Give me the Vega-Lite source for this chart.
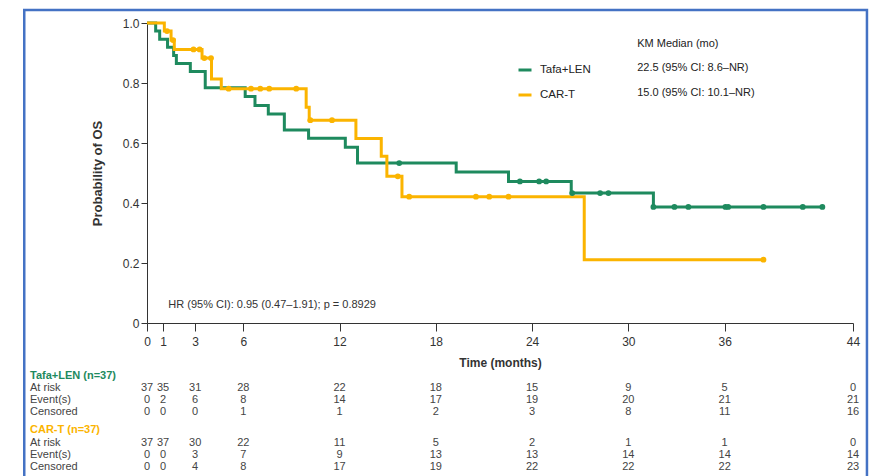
{
  "$schema": "https://vega.github.io/schema/vega-lite/v6.json",
  "width": 706,
  "height": 300,
  "autosize": {"type": "none"},
  "padding": {"left": 147, "top": 23, "right": 26, "bottom": 153},
  "background": "white",
  "config": {
    "view": {"stroke": null},
    "font": "Liberation Sans",
    "axis": {"grid": false, "labelColor": "#333", "domainColor": "#333", "tickColor": "#333", "titleColor": "#333", "labelOverlap": false},
    "axisY": {"tickCount": 10, "labelOverlap": false},
    "text": {"fontSize": 11, "color": "#444", "baseline": "middle"}
  },
  "datasets": {
    "km": [
      {"arm": "Tafa+LEN", "t": 0, "s": 1.0},
      {"arm": "Tafa+LEN", "t": 0.54, "s": 0.973},
      {"arm": "Tafa+LEN", "t": 0.79, "s": 0.946},
      {"arm": "Tafa+LEN", "t": 1.28, "s": 0.919},
      {"arm": "Tafa+LEN", "t": 1.66, "s": 0.892},
      {"arm": "Tafa+LEN", "t": 1.83, "s": 0.865},
      {"arm": "Tafa+LEN", "t": 2.7, "s": 0.838},
      {"arm": "Tafa+LEN", "t": 3.63, "s": 0.784},
      {"arm": "Tafa+LEN", "t": 6.12, "s": 0.755},
      {"arm": "Tafa+LEN", "t": 6.73, "s": 0.725},
      {"arm": "Tafa+LEN", "t": 7.56, "s": 0.697},
      {"arm": "Tafa+LEN", "t": 8.56, "s": 0.643},
      {"arm": "Tafa+LEN", "t": 10.07, "s": 0.616},
      {"arm": "Tafa+LEN", "t": 12.36, "s": 0.586},
      {"arm": "Tafa+LEN", "t": 13.12, "s": 0.533},
      {"arm": "Tafa+LEN", "t": 19.27, "s": 0.503},
      {"arm": "Tafa+LEN", "t": 22.53, "s": 0.472},
      {"arm": "Tafa+LEN", "t": 26.44, "s": 0.433},
      {"arm": "Tafa+LEN", "t": 31.56, "s": 0.387},
      {"arm": "Tafa+LEN", "t": 42.09, "s": 0.387},
      {"arm": "CAR-T", "t": 0, "s": 1.0},
      {"arm": "CAR-T", "t": 1.08, "s": 0.973},
      {"arm": "CAR-T", "t": 1.5, "s": 0.943},
      {"arm": "CAR-T", "t": 1.7, "s": 0.912},
      {"arm": "CAR-T", "t": 3.43, "s": 0.883},
      {"arm": "CAR-T", "t": 4.02, "s": 0.813},
      {"arm": "CAR-T", "t": 4.63, "s": 0.781},
      {"arm": "CAR-T", "t": 9.92, "s": 0.719},
      {"arm": "CAR-T", "t": 10.11, "s": 0.676},
      {"arm": "CAR-T", "t": 13.02, "s": 0.615},
      {"arm": "CAR-T", "t": 14.6, "s": 0.556},
      {"arm": "CAR-T", "t": 14.95, "s": 0.489},
      {"arm": "CAR-T", "t": 15.89, "s": 0.421},
      {"arm": "CAR-T", "t": 27.25, "s": 0.211},
      {"arm": "CAR-T", "t": 38.42, "s": 0.211}
    ],
    "censor": [
      {"arm": "Tafa+LEN", "t": 15.72, "s": 0.533},
      {"arm": "Tafa+LEN", "t": 23.24, "s": 0.472},
      {"arm": "Tafa+LEN", "t": 24.44, "s": 0.472},
      {"arm": "Tafa+LEN", "t": 24.88, "s": 0.472},
      {"arm": "Tafa+LEN", "t": 26.5, "s": 0.433},
      {"arm": "Tafa+LEN", "t": 28.24, "s": 0.433},
      {"arm": "Tafa+LEN", "t": 28.76, "s": 0.433},
      {"arm": "Tafa+LEN", "t": 31.56, "s": 0.387},
      {"arm": "Tafa+LEN", "t": 32.87, "s": 0.387},
      {"arm": "Tafa+LEN", "t": 33.74, "s": 0.387},
      {"arm": "Tafa+LEN", "t": 36.05, "s": 0.387},
      {"arm": "Tafa+LEN", "t": 36.22, "s": 0.387},
      {"arm": "Tafa+LEN", "t": 38.42, "s": 0.387},
      {"arm": "Tafa+LEN", "t": 40.87, "s": 0.387},
      {"arm": "Tafa+LEN", "t": 42.09, "s": 0.387},
      {"arm": "CAR-T", "t": 1.25, "s": 0.973},
      {"arm": "CAR-T", "t": 1.62, "s": 0.943},
      {"arm": "CAR-T", "t": 2.9, "s": 0.912},
      {"arm": "CAR-T", "t": 3.28, "s": 0.912},
      {"arm": "CAR-T", "t": 3.57, "s": 0.883},
      {"arm": "CAR-T", "t": 3.99, "s": 0.883},
      {"arm": "CAR-T", "t": 5.09, "s": 0.781},
      {"arm": "CAR-T", "t": 6.48, "s": 0.781},
      {"arm": "CAR-T", "t": 7.06, "s": 0.781},
      {"arm": "CAR-T", "t": 7.62, "s": 0.781},
      {"arm": "CAR-T", "t": 9.3, "s": 0.781},
      {"arm": "CAR-T", "t": 10.18, "s": 0.676},
      {"arm": "CAR-T", "t": 11.53, "s": 0.676},
      {"arm": "CAR-T", "t": 15.63, "s": 0.489},
      {"arm": "CAR-T", "t": 16.34, "s": 0.421},
      {"arm": "CAR-T", "t": 20.5, "s": 0.421},
      {"arm": "CAR-T", "t": 21.33, "s": 0.421},
      {"arm": "CAR-T", "t": 22.53, "s": 0.421},
      {"arm": "CAR-T", "t": 38.42, "s": 0.211}
    ],
    "risk": [
      {"arm": "Tafa+LEN", "stat": "At risk", "t": 0, "n": 37}, {"arm": "Tafa+LEN", "stat": "At risk", "t": 1, "n": 35}, {"arm": "Tafa+LEN", "stat": "At risk", "t": 3, "n": 31}, {"arm": "Tafa+LEN", "stat": "At risk", "t": 6, "n": 28}, {"arm": "Tafa+LEN", "stat": "At risk", "t": 12, "n": 22}, {"arm": "Tafa+LEN", "stat": "At risk", "t": 18, "n": 18}, {"arm": "Tafa+LEN", "stat": "At risk", "t": 24, "n": 15}, {"arm": "Tafa+LEN", "stat": "At risk", "t": 30, "n": 9}, {"arm": "Tafa+LEN", "stat": "At risk", "t": 36, "n": 5}, {"arm": "Tafa+LEN", "stat": "At risk", "t": 44, "n": 0},
      {"arm": "Tafa+LEN", "stat": "Event(s)", "t": 0, "n": 0}, {"arm": "Tafa+LEN", "stat": "Event(s)", "t": 1, "n": 2}, {"arm": "Tafa+LEN", "stat": "Event(s)", "t": 3, "n": 6}, {"arm": "Tafa+LEN", "stat": "Event(s)", "t": 6, "n": 8}, {"arm": "Tafa+LEN", "stat": "Event(s)", "t": 12, "n": 14}, {"arm": "Tafa+LEN", "stat": "Event(s)", "t": 18, "n": 17}, {"arm": "Tafa+LEN", "stat": "Event(s)", "t": 24, "n": 19}, {"arm": "Tafa+LEN", "stat": "Event(s)", "t": 30, "n": 20}, {"arm": "Tafa+LEN", "stat": "Event(s)", "t": 36, "n": 21}, {"arm": "Tafa+LEN", "stat": "Event(s)", "t": 44, "n": 21},
      {"arm": "Tafa+LEN", "stat": "Censored", "t": 0, "n": 0}, {"arm": "Tafa+LEN", "stat": "Censored", "t": 1, "n": 0}, {"arm": "Tafa+LEN", "stat": "Censored", "t": 3, "n": 0}, {"arm": "Tafa+LEN", "stat": "Censored", "t": 6, "n": 1}, {"arm": "Tafa+LEN", "stat": "Censored", "t": 12, "n": 1}, {"arm": "Tafa+LEN", "stat": "Censored", "t": 18, "n": 2}, {"arm": "Tafa+LEN", "stat": "Censored", "t": 24, "n": 3}, {"arm": "Tafa+LEN", "stat": "Censored", "t": 30, "n": 8}, {"arm": "Tafa+LEN", "stat": "Censored", "t": 36, "n": 11}, {"arm": "Tafa+LEN", "stat": "Censored", "t": 44, "n": 16},
      {"arm": "CAR-T", "stat": "At risk", "t": 0, "n": 37}, {"arm": "CAR-T", "stat": "At risk", "t": 1, "n": 37}, {"arm": "CAR-T", "stat": "At risk", "t": 3, "n": 30}, {"arm": "CAR-T", "stat": "At risk", "t": 6, "n": 22}, {"arm": "CAR-T", "stat": "At risk", "t": 12, "n": 11}, {"arm": "CAR-T", "stat": "At risk", "t": 18, "n": 5}, {"arm": "CAR-T", "stat": "At risk", "t": 24, "n": 2}, {"arm": "CAR-T", "stat": "At risk", "t": 30, "n": 1}, {"arm": "CAR-T", "stat": "At risk", "t": 36, "n": 1}, {"arm": "CAR-T", "stat": "At risk", "t": 44, "n": 0},
      {"arm": "CAR-T", "stat": "Event(s)", "t": 0, "n": 0}, {"arm": "CAR-T", "stat": "Event(s)", "t": 1, "n": 0}, {"arm": "CAR-T", "stat": "Event(s)", "t": 3, "n": 3}, {"arm": "CAR-T", "stat": "Event(s)", "t": 6, "n": 7}, {"arm": "CAR-T", "stat": "Event(s)", "t": 12, "n": 9}, {"arm": "CAR-T", "stat": "Event(s)", "t": 18, "n": 13}, {"arm": "CAR-T", "stat": "Event(s)", "t": 24, "n": 13}, {"arm": "CAR-T", "stat": "Event(s)", "t": 30, "n": 14}, {"arm": "CAR-T", "stat": "Event(s)", "t": 36, "n": 14}, {"arm": "CAR-T", "stat": "Event(s)", "t": 44, "n": 14},
      {"arm": "CAR-T", "stat": "Censored", "t": 0, "n": 0}, {"arm": "CAR-T", "stat": "Censored", "t": 1, "n": 0}, {"arm": "CAR-T", "stat": "Censored", "t": 3, "n": 4}, {"arm": "CAR-T", "stat": "Censored", "t": 6, "n": 8}, {"arm": "CAR-T", "stat": "Censored", "t": 12, "n": 17}, {"arm": "CAR-T", "stat": "Censored", "t": 18, "n": 19}, {"arm": "CAR-T", "stat": "Censored", "t": 24, "n": 22}, {"arm": "CAR-T", "stat": "Censored", "t": 30, "n": 22}, {"arm": "CAR-T", "stat": "Censored", "t": 36, "n": 22}, {"arm": "CAR-T", "stat": "Censored", "t": 44, "n": 23}
    ]
  },
  "layer": [
    {
      "data": {"name": "km"},
      "mark": {"type": "line", "interpolate": "step-after", "strokeWidth": 3},
      "encoding": {
        "x": {
          "field": "t", "type": "quantitative",
          "scale": {"domain": [0, 44], "nice": false, "zero": false},
          "axis": {
            "values": [0, 1, 3, 6, 12, 18, 24, 30, 36, 44],
            "title": "Time (months)", "titleFontSize": 12, "titleFontWeight": "bold", "titlePadding": 10,
            "labelFontSize": 12, "labelPadding": 5, "tickSize": 8, "labelFlush": false, "labelOverlap": false
          }
        },
        "y": {
          "field": "s", "type": "quantitative",
          "scale": {"domain": [0, 1], "nice": false},
          "axis": {
            "orient": "left",
            "values": [0, 0.1, 0.2, 0.3, 0.4, 0.5, 0.6, 0.7, 0.8, 0.9, 1.0],
            "tickCount": 10,
            "labelExpr": "datum.value == 0 ? '0' : format(datum.value, '.1f')",
            "title": "Probability of OS", "titleFontSize": 13, "titleFontWeight": "bold", "titlePadding": 18,
            "labelFontSize": 12, "labelPadding": 2, "tickSize": 6, "labelOverlap": false
          }
        },
        "color": {
          "field": "arm", "type": "nominal",
          "scale": {"domain": ["Tafa+LEN", "CAR-T"], "range": ["#1E8A5E", "#FBB400"]},
          "legend": {
            "orient": "none", "legendX": 370, "legendY": 39, "title": null,
            "symbolType": "stroke", "symbolStrokeWidth": 3, "symbolSize": 169,
            "labelFontSize": 11.5, "labelColor": "#222", "labelOffset": 7, "rowPadding": 11, "padding": 0
          }
        }
      }
    },
    {
      "data": {"name": "censor"},
      "mark": {"type": "circle", "size": 34, "opacity": 1},
      "encoding": {
        "x": {"field": "t", "type": "quantitative"},
        "y": {"field": "s", "type": "quantitative", "axis": {"orient": "left", "values": [0, 0.1, 0.2, 0.3, 0.4, 0.5, 0.6, 0.7, 0.8, 0.9, 1.0], "tickCount": 10, "labelOverlap": false}},
        "color": {"field": "arm", "type": "nominal"}
      }
    },
    {
      "data": {"values": [{}]},
      "mark": {"type": "rect", "filled": false, "stroke": "#4472C4", "strokeWidth": 2.5},
      "encoding": {
        "x": {"datum": -7.65, "type": "quantitative"},
        "x2": {"datum": 44.87},
        "y": {"datum": 1.043, "type": "quantitative", "axis": {"orient": "left", "values": [0, 0.1, 0.2, 0.3, 0.4, 0.5, 0.6, 0.7, 0.8, 0.9, 1.0], "tickCount": 10, "labelOverlap": false}},
        "y2": {"datum": -0.53}
      }
    },
    {
      "data": {"values": [{}]},
      "mark": {"type": "text", "text": "HR (95% CI): 0.95 (0.47–1.91); p = 0.8929", "align": "left", "color": "#333"},
      "encoding": {"x": {"datum": 1.33, "type": "quantitative"}, "y": {"datum": 0.061, "type": "quantitative", "axis": {"orient": "left", "values": [0, 0.1, 0.2, 0.3, 0.4, 0.5, 0.6, 0.7, 0.8, 0.9, 1.0], "tickCount": 10, "labelOverlap": false}}}
    },
    {
      "data": {"values": [{}]},
      "mark": {"type": "text", "text": "KM Median (mo)", "align": "left", "color": "#222"},
      "encoding": {"x": {"datum": 30.55, "type": "quantitative"}, "y": {"datum": 0.931, "type": "quantitative", "axis": {"orient": "left", "values": [0, 0.1, 0.2, 0.3, 0.4, 0.5, 0.6, 0.7, 0.8, 0.9, 1.0], "tickCount": 10, "labelOverlap": false}}}
    },
    {
      "data": {"values": [{}]},
      "mark": {"type": "text", "text": "22.5 (95% CI: 8.6–NR)", "align": "left", "color": "#222"},
      "encoding": {"x": {"datum": 30.55, "type": "quantitative"}, "y": {"datum": 0.851, "type": "quantitative", "axis": {"orient": "left", "values": [0, 0.1, 0.2, 0.3, 0.4, 0.5, 0.6, 0.7, 0.8, 0.9, 1.0], "tickCount": 10, "labelOverlap": false}}}
    },
    {
      "data": {"values": [{}]},
      "mark": {"type": "text", "text": "15.0 (95% CI: 10.1–NR)", "align": "left", "color": "#222"},
      "encoding": {"x": {"datum": 30.55, "type": "quantitative"}, "y": {"datum": 0.768, "type": "quantitative", "axis": {"orient": "left", "values": [0, 0.1, 0.2, 0.3, 0.4, 0.5, 0.6, 0.7, 0.8, 0.9, 1.0], "tickCount": 10, "labelOverlap": false}}}
    },
    {
      "data": {"values": [{}]},
      "mark": {"type": "text", "text": "Tafa+LEN (n=37)", "align": "left", "fontWeight": "bold", "color": "#1E8A5E"},
      "encoding": {"x": {"datum": -7.29, "type": "quantitative"}, "y": {"datum": -0.176, "type": "quantitative", "axis": {"orient": "left", "values": [0, 0.1, 0.2, 0.3, 0.4, 0.5, 0.6, 0.7, 0.8, 0.9, 1.0], "tickCount": 10, "labelOverlap": false}}}
    },
    {
      "data": {"values": [{}]},
      "mark": {"type": "text", "text": "CAR-T (n=37)", "align": "left", "fontWeight": "bold", "color": "#FBB400"},
      "encoding": {"x": {"datum": -7.29, "type": "quantitative"}, "y": {"datum": -0.357, "type": "quantitative", "axis": {"orient": "left", "values": [0, 0.1, 0.2, 0.3, 0.4, 0.5, 0.6, 0.7, 0.8, 0.9, 1.0], "tickCount": 10, "labelOverlap": false}}}
    },
    {
      "data": {"values": [{}]},
      "mark": {"type": "text", "text": "At risk", "align": "left"},
      "encoding": {"x": {"datum": -7.29, "type": "quantitative"}, "y": {"datum": -0.217, "type": "quantitative", "axis": {"orient": "left", "values": [0, 0.1, 0.2, 0.3, 0.4, 0.5, 0.6, 0.7, 0.8, 0.9, 1.0], "tickCount": 10, "labelOverlap": false}}}
    },
    {
      "data": {"values": [{}]},
      "mark": {"type": "text", "text": "Event(s)", "align": "left"},
      "encoding": {"x": {"datum": -7.29, "type": "quantitative"}, "y": {"datum": -0.2555, "type": "quantitative", "axis": {"orient": "left", "values": [0, 0.1, 0.2, 0.3, 0.4, 0.5, 0.6, 0.7, 0.8, 0.9, 1.0], "tickCount": 10, "labelOverlap": false}}}
    },
    {
      "data": {"values": [{}]},
      "mark": {"type": "text", "text": "Censored", "align": "left"},
      "encoding": {"x": {"datum": -7.29, "type": "quantitative"}, "y": {"datum": -0.2957, "type": "quantitative", "axis": {"orient": "left", "values": [0, 0.1, 0.2, 0.3, 0.4, 0.5, 0.6, 0.7, 0.8, 0.9, 1.0], "tickCount": 10, "labelOverlap": false}}}
    },
    {
      "data": {"values": [{}]},
      "mark": {"type": "text", "text": "At risk", "align": "left"},
      "encoding": {"x": {"datum": -7.29, "type": "quantitative"}, "y": {"datum": -0.399, "type": "quantitative", "axis": {"orient": "left", "values": [0, 0.1, 0.2, 0.3, 0.4, 0.5, 0.6, 0.7, 0.8, 0.9, 1.0], "tickCount": 10, "labelOverlap": false}}}
    },
    {
      "data": {"values": [{}]},
      "mark": {"type": "text", "text": "Event(s)", "align": "left"},
      "encoding": {"x": {"datum": -7.29, "type": "quantitative"}, "y": {"datum": -0.44, "type": "quantitative", "axis": {"orient": "left", "values": [0, 0.1, 0.2, 0.3, 0.4, 0.5, 0.6, 0.7, 0.8, 0.9, 1.0], "tickCount": 10, "labelOverlap": false}}}
    },
    {
      "data": {"values": [{}]},
      "mark": {"type": "text", "text": "Censored", "align": "left"},
      "encoding": {"x": {"datum": -7.29, "type": "quantitative"}, "y": {"datum": -0.479, "type": "quantitative", "axis": {"orient": "left", "values": [0, 0.1, 0.2, 0.3, 0.4, 0.5, 0.6, 0.7, 0.8, 0.9, 1.0], "tickCount": 10, "labelOverlap": false}}}
    },
    {
      "data": {"name": "risk"},
      "transform": [{"filter": "datum.arm == 'Tafa+LEN' && datum.stat == 'At risk'"}],
      "mark": {"type": "text", "align": "center"},
      "encoding": {"x": {"field": "t", "type": "quantitative"}, "y": {"datum": -0.217, "type": "quantitative", "axis": {"orient": "left", "values": [0, 0.1, 0.2, 0.3, 0.4, 0.5, 0.6, 0.7, 0.8, 0.9, 1.0], "tickCount": 10, "labelOverlap": false}}, "text": {"field": "n", "type": "quantitative"}}
    },
    {
      "data": {"name": "risk"},
      "transform": [{"filter": "datum.arm == 'Tafa+LEN' && datum.stat == 'Event(s)'"}],
      "mark": {"type": "text", "align": "center"},
      "encoding": {"x": {"field": "t", "type": "quantitative"}, "y": {"datum": -0.2555, "type": "quantitative", "axis": {"orient": "left", "values": [0, 0.1, 0.2, 0.3, 0.4, 0.5, 0.6, 0.7, 0.8, 0.9, 1.0], "tickCount": 10, "labelOverlap": false}}, "text": {"field": "n", "type": "quantitative"}}
    },
    {
      "data": {"name": "risk"},
      "transform": [{"filter": "datum.arm == 'Tafa+LEN' && datum.stat == 'Censored'"}],
      "mark": {"type": "text", "align": "center"},
      "encoding": {"x": {"field": "t", "type": "quantitative"}, "y": {"datum": -0.2957, "type": "quantitative", "axis": {"orient": "left", "values": [0, 0.1, 0.2, 0.3, 0.4, 0.5, 0.6, 0.7, 0.8, 0.9, 1.0], "tickCount": 10, "labelOverlap": false}}, "text": {"field": "n", "type": "quantitative"}}
    },
    {
      "data": {"name": "risk"},
      "transform": [{"filter": "datum.arm == 'CAR-T' && datum.stat == 'At risk'"}],
      "mark": {"type": "text", "align": "center"},
      "encoding": {"x": {"field": "t", "type": "quantitative"}, "y": {"datum": -0.399, "type": "quantitative", "axis": {"orient": "left", "values": [0, 0.1, 0.2, 0.3, 0.4, 0.5, 0.6, 0.7, 0.8, 0.9, 1.0], "tickCount": 10, "labelOverlap": false}}, "text": {"field": "n", "type": "quantitative"}}
    },
    {
      "data": {"name": "risk"},
      "transform": [{"filter": "datum.arm == 'CAR-T' && datum.stat == 'Event(s)'"}],
      "mark": {"type": "text", "align": "center"},
      "encoding": {"x": {"field": "t", "type": "quantitative"}, "y": {"datum": -0.44, "type": "quantitative", "axis": {"orient": "left", "values": [0, 0.1, 0.2, 0.3, 0.4, 0.5, 0.6, 0.7, 0.8, 0.9, 1.0], "tickCount": 10, "labelOverlap": false}}, "text": {"field": "n", "type": "quantitative"}}
    },
    {
      "data": {"name": "risk"},
      "transform": [{"filter": "datum.arm == 'CAR-T' && datum.stat == 'Censored'"}],
      "mark": {"type": "text", "align": "center"},
      "encoding": {"x": {"field": "t", "type": "quantitative"}, "y": {"datum": -0.479, "type": "quantitative", "axis": {"orient": "left", "values": [0, 0.1, 0.2, 0.3, 0.4, 0.5, 0.6, 0.7, 0.8, 0.9, 1.0], "tickCount": 10, "labelOverlap": false}}, "text": {"field": "n", "type": "quantitative"}}
    }
  ]
}
